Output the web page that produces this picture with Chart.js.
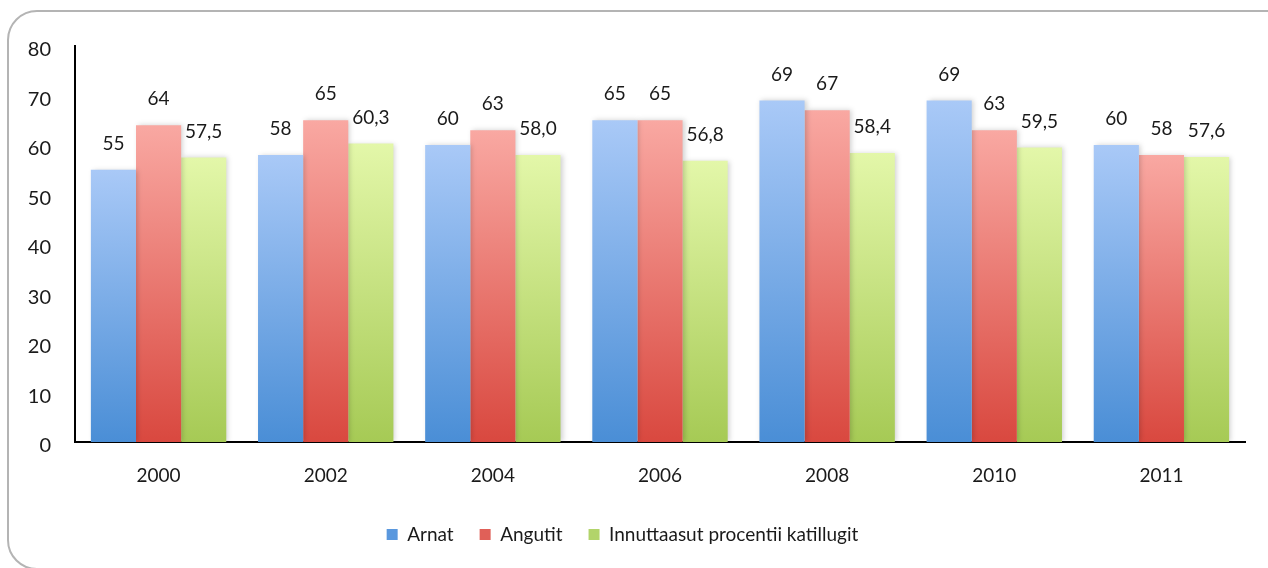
<!DOCTYPE html>
<html lang="kl">
<head>
    <meta charset="UTF-8">
    <title>Arnat, Angutit</title>
    <script src="https://cdn.jsdelivr.net/npm/chart.js"></script>
    <style>
        html, body { margin: 0; padding: 0; background: #fff; overflow: hidden; }
        #frame {
            position: absolute; left: 7px; top: 10px; width: 1290px; height: 556px;
            border: 2px solid #b4b4b4; border-radius: 30px;
        }
        #wrap { position: absolute; left: 0; top: 0; width: 1268px; height: 568px; }
    </style>
</head>
<body>
<div id="frame"></div>
<div id="wrap"><canvas id="chart"></canvas></div>
<script>
const years = ['2000', '2002', '2004', '2006', '2008', '2010', '2011'];
const arnat = [55, 58, 60, 65, 69, 69, 60];
const angutit = [64, 65, 63, 65, 67, 63, 58];
const innuttaasut = [57.5, 60.3, 58.0, 56.8, 58.4, 59.5, 57.6];
const yTicks = [0, 10, 20, 30, 40, 50, 60, 70, 80];

const FONT = 'Lato, "Open Sans", sans-serif';

// top colour, bottom colour, legend colour
const colours = {
    blue: ['#a9c9f7', '#4a8ed6', '#5a98de'],
    red: ['#f9a8a2', '#d9483f', '#e06058'],
    green: ['#e3f7a9', '#a6ca55', '#b2d46a']
};

function barGradient(c) {
    return function (context) {
        const chart = context.chart;
        if (!chart.chartArea || context.dataIndex === undefined) return c[2];
        const y = chart.scales.y;
        const v = context.parsed ? context.parsed.y : context.raw;
        const top = y.getPixelForValue(v);
        const bottom = y.getPixelForValue(0);
        const g = chart.ctx.createLinearGradient(0, top, 0, bottom);
        g.addColorStop(0, c[0]);
        g.addColorStop(1, c[1]);
        return g;
    };
}

// value labels above the bars
const valueLabels = {
    id: 'valueLabels',
    afterDatasetsDraw(chart) {
        const ctx = chart.ctx;
        ctx.save();
        ctx.font = '19px ' + FONT;
        ctx.fillStyle = '#1a1a1a';
        ctx.textAlign = 'center';
        ctx.textBaseline = 'middle';
        chart.data.datasets.forEach((ds, i) => {
            const meta = chart.getDatasetMeta(i);
            meta.data.forEach((bar, j) => {
                const v = ds.data[j];
                const txt = ds.decimals ? v.toFixed(1).replace('.', ',') : String(v);
                ctx.fillText(txt, bar.x, bar.y - 26);
            });
        });
        ctx.restore();
    }
};

// soft shadow under bars
const barShadow = {
    id: 'barShadow',
    beforeDatasetsDraw(chart) {
        chart.ctx.save();
        chart.ctx.shadowColor = 'rgba(0,0,0,0.18)';
        chart.ctx.shadowBlur = 5;
        chart.ctx.shadowOffsetX = 2;
    },
    afterDatasetsDraw(chart) {
        chart.ctx.restore();
    }
};

new Chart(document.getElementById('chart'), {
    type: 'bar',
    data: {
        labels: years,
        datasets: [
            { label: 'Arnat', data: arnat, backgroundColor: barGradient(colours.blue) },
            { label: 'Angutit', data: angutit, backgroundColor: barGradient(colours.red) },
            { label: 'Innuttaasut procentii katillugit', data: innuttaasut, decimals: 1, backgroundColor: barGradient(colours.green) }
        ]
    },
    options: {
        responsive: true,
        maintainAspectRatio: false,
        animation: false,
        layout: { padding: { left: 0, right: 23, top: 46, bottom: 14 } },
        datasets: { bar: { categoryPercentage: 0.81, barPercentage: 1.0, borderWidth: 0 } },
        plugins: {
            tooltip: { enabled: false },
            legend: {
                position: 'bottom',
                labels: {
                    font: { family: FONT, size: 19 },
                    color: '#1a1a1a',
                    boxWidth: 11,
                    boxHeight: 11,
                    padding: 26,
                    generateLabels(chart) {
                        const keys = ['blue', 'red', 'green'];
                        return chart.data.datasets.map((ds, i) => ({
                            text: ds.label,
                            fillStyle: colours[keys[i]][2],
                            strokeStyle: colours[keys[i]][2],
                            lineWidth: 0,
                            datasetIndex: i,
                            fontColor: '#1a1a1a'
                        }));
                    }
                }
            }
        },
        scales: {
            x: {
                grid: { display: false, drawTicks: false },
                border: { display: true, color: '#000', width: 2 },
                ticks: { font: { family: FONT, size: 19 }, color: '#1a1a1a', padding: 22 },
                afterFit(s) { s.height = 57; }
            },
            y: {
                min: 0,
                max: 80,
                afterBuildTicks(s) { s.ticks = yTicks.map(v => ({ value: v })); },
                grid: { display: false, drawTicks: false },
                border: { display: true, color: '#000', width: 2 },
                ticks: { font: { family: FONT, size: 20 }, color: '#1a1a1a', padding: 24, labelOffset: 4 },
                afterFit(s) { s.width = 75; }
            }
        }
    },
    plugins: [barShadow, valueLabels]
});
</script>
</body>
</html>
